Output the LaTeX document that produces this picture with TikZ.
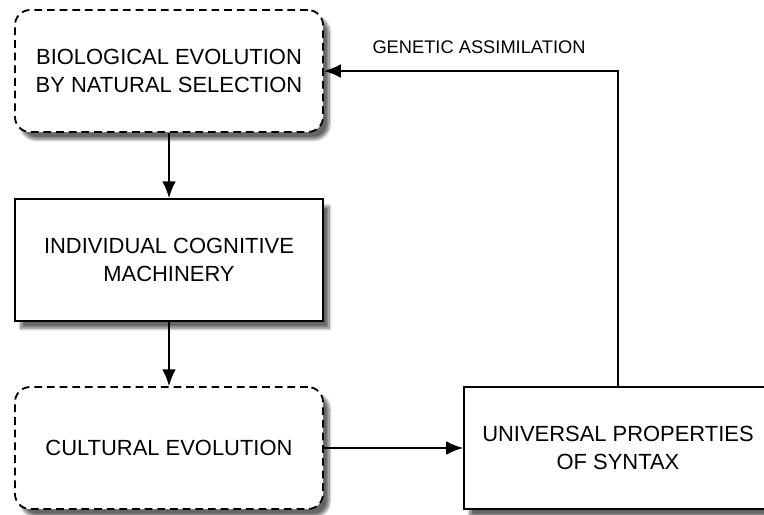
\documentclass[tikz,border=0pt]{standalone}
\usepackage{fontspec}
\setmainfont{Liberation Sans}
\usepackage{tikz}
\usetikzlibrary{positioning,arrows.meta,shadows.blur}
\usepackage{xcolor}

\tikzset{
  stage/.style={rectangle,draw,fill=white,line width=1.3pt,minimum width=7.7cm,minimum height=3.05cm,
    align=center,font=\fontsize{15.6}{19.5}\selectfont,
    blur shadow={shadow xshift=1.5mm,shadow yshift=-1.8mm,shadow blur steps=8,shadow opacity=60}},
  softstage/.style={stage,rounded corners=0.38cm,dash pattern=on 5.5pt off 3.5pt},
  link/.style={line width=1.1pt,-{Latex[length=4.2mm,width=3.4mm]}}
}

\begin{document}
\begin{tikzpicture}[x=0.025cm,y=-0.025cm]
\useasboundingbox (0,0) rectangle (764,514);
\node[softstage] (bio) at (169,71) {BIOLOGICAL EVOLUTION\\BY NATURAL SELECTION};
\node[stage] (ind) at (169,260) {INDIVIDUAL COGNITIVE\\MACHINERY};
\node[softstage] (cult) at (169,448) {CULTURAL EVOLUTION};
\node[stage] (univ) at (618,448) {UNIVERSAL PROPERTIES\\OF SYNTAX};
\node (gen) at (479,47) [font=\fontsize{13}{15}\selectfont] {GENETIC ASSIMILATION};
\draw[link] (bio) -- (ind);
\draw[link] (ind) -- (cult);
\draw[link] (cult) -- (univ);
\draw[link] (univ.north) |- (bio.east);
\end{tikzpicture}
\end{document}
